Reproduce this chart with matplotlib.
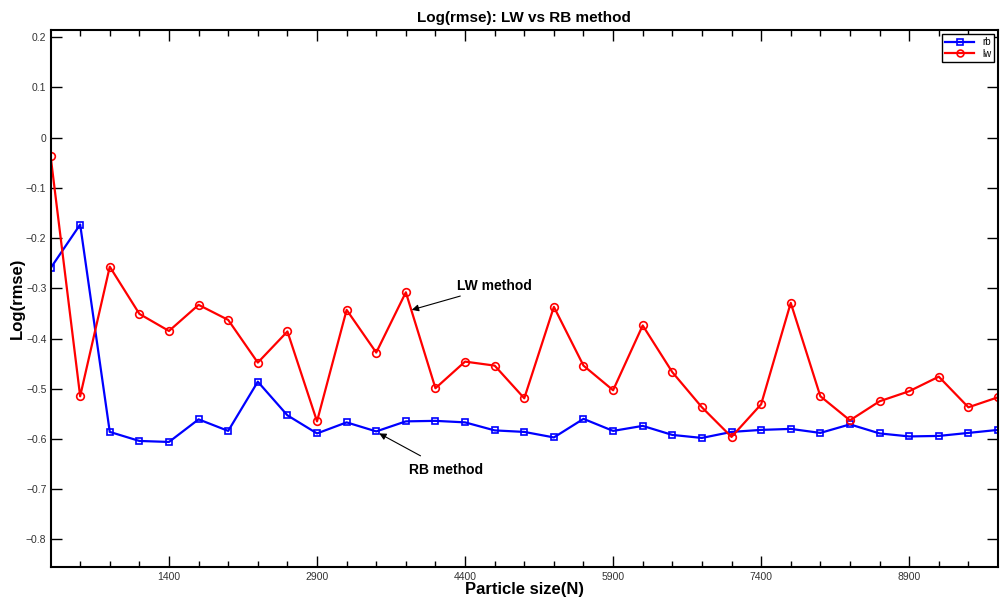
import numpy as np
import matplotlib.pyplot as plt
from matplotlib.ticker import FixedLocator

plt.rcParams['font.family'] = ['Liberation Sans', 'DejaVu Sans']

# particle sizes (N)
particle_size = np.arange(200, 9801, 300)

# log(rmse) for the two methods
rb_values = [-0.260, -0.173, -0.586, -0.604, -0.606, -0.561, -0.584, -0.486, -0.553, -0.589,
             -0.567, -0.585, -0.565, -0.564, -0.567, -0.583, -0.586, -0.597, -0.560, -0.584,
             -0.574, -0.592, -0.598, -0.586, -0.582, -0.580, -0.588, -0.571, -0.589, -0.595,
             -0.594, -0.588, -0.582]
lw_values = [-0.036, -0.515, -0.257, -0.351, -0.385, -0.333, -0.363, -0.448, -0.386, -0.565,
             -0.343, -0.428, -0.308, -0.499, -0.446, -0.454, -0.519, -0.337, -0.454, -0.503,
             -0.374, -0.467, -0.537, -0.596, -0.531, -0.329, -0.515, -0.563, -0.525, -0.505,
             -0.476, -0.537, -0.517]

y_ticks = [-0.8, -0.7, -0.6, -0.5, -0.4, -0.3, -0.2, -0.1, 0.0, 0.1, 0.2]
y_labels = ['\u22120.8', '\u22120.7', '\u22120.6', '\u22120.5', '\u22120.4', '\u22120.3',
            '\u22120.2', '\u22120.1', '0', '0.1', '0.2']

fig = plt.figure(figsize=(10.01, 6.03), dpi=100)
ax = fig.add_axes([0.0505, 0.0597, 0.9465, 0.8903])

ax.plot(particle_size, rb_values, color='blue', marker='s', markersize=4.5, markerfacecolor='none',
        markeredgecolor='blue', markeredgewidth=1.2, linewidth=1.6, label='rb')
ax.plot(particle_size, lw_values, color='red', marker='o', markersize=5.5, markerfacecolor='none',
        markeredgecolor='red', markeredgewidth=1.2, linewidth=1.6, label='lw')

ax.set_xlim(200, 9800)
ax.set_ylim(-0.855, 0.214)
ax.set_xticks(np.arange(1400, 9801, 1500))
ax.xaxis.set_minor_locator(FixedLocator(particle_size[1:-1]))
ax.set_yticks(y_ticks)
ax.set_yticklabels(y_labels)

ax.tick_params(which='both', direction='in', top=True, right=True, labelsize=7.5,
               labelcolor='#333333', width=1)
ax.tick_params(which='major', length=8)
ax.tick_params(which='minor', length=4)
ax.tick_params(axis='y', pad=3)
for s in ax.spines.values():
    s.set_linewidth(1.5)

ax.set_xlabel('Particle size(N)', fontsize=12, fontweight='bold', labelpad=0)
ax.set_ylabel('Log(rmse)', fontsize=12, fontweight='bold')
ax.yaxis.set_label_coords(-0.027, 0.5)
ax.set_title('Log(rmse): LW vs RB method', fontsize=11, fontweight='bold', pad=6)

ax.annotate('LW method', xy=(3860, -0.343), xytext=(4320, -0.296), fontsize=10,
            fontweight='bold', va='center', ha='left',
            arrowprops=dict(arrowstyle='-|>', color='black', lw=0.8, shrinkA=0, shrinkB=0))
ax.annotate('RB method', xy=(3530, -0.589), xytext=(3830, -0.661), fontsize=10,
            fontweight='bold', va='center', ha='left',
            arrowprops=dict(arrowstyle='-|>', color='black', lw=0.8, shrinkA=6, shrinkB=0))

leg = ax.legend(loc='upper right', fontsize=7, fancybox=False, edgecolor='black',
                framealpha=1, handlelength=3, borderpad=0.3, labelspacing=0.2,
                borderaxespad=0.4, markerscale=0.9)
leg.get_frame().set_linewidth(1)

fig.savefig('out.png', dpi=100)
